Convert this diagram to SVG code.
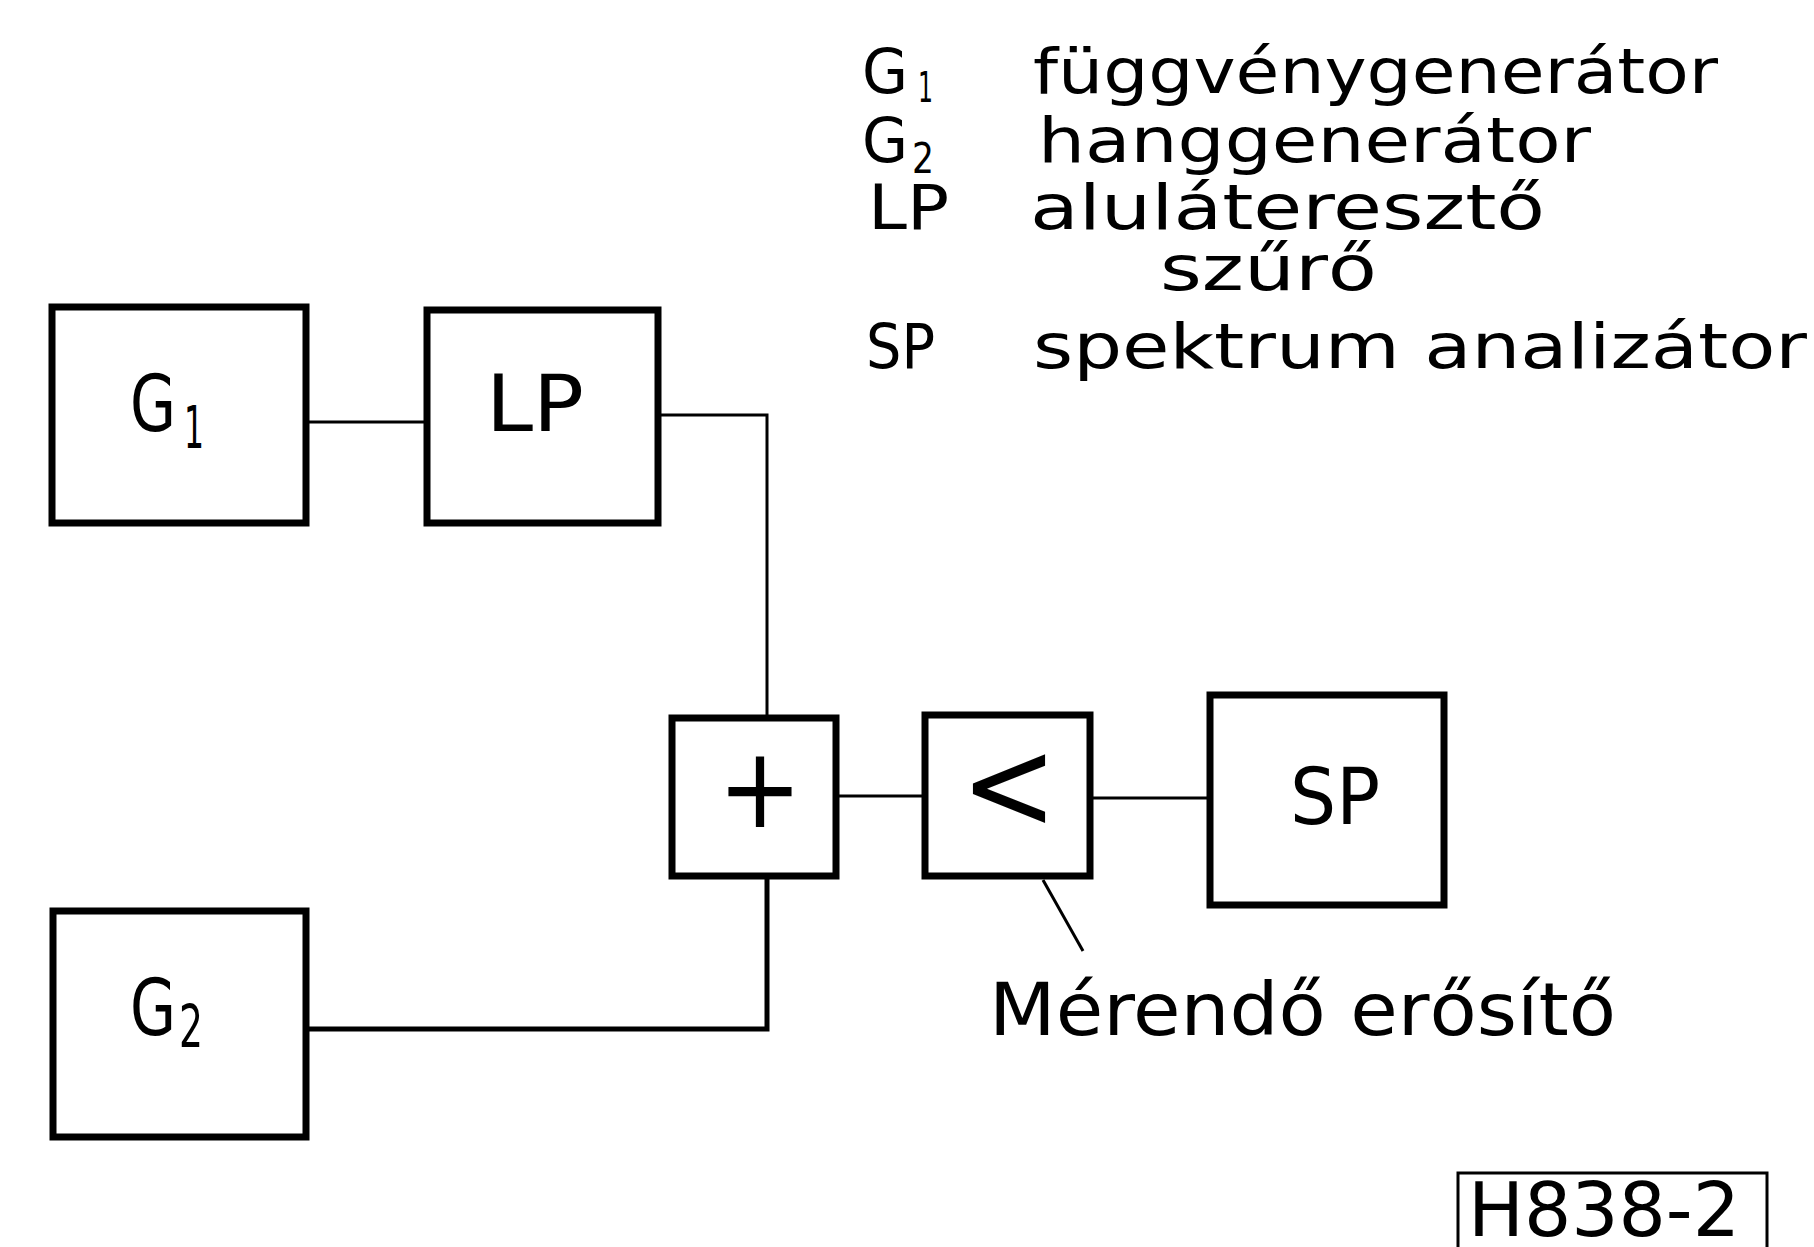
<svg xmlns="http://www.w3.org/2000/svg" width="1814" height="1247" viewBox="0 0 1814 1247">
  <style>
    .box { fill: #fff; stroke: #000; stroke-width: 7; }
    .wire { fill: none; stroke: #000; stroke-width: 3; }
    .wire-heavy { fill: none; stroke: #000; stroke-width: 5; }
    text { font-family: "DejaVu Sans Condensed", "DejaVu Sans", sans-serif; fill: #000; }
    .lbl { font-size: 78px; }
    .sub { font-size: 58px; }
    .leg { font-size: 63px; }
    .legsub { font-size: 42px; }
    .note { font-size: 73px; }
  </style>

  <rect width="1814" height="1247" fill="#fff"/>

  <!-- connecting wires -->
  <g id="connectors">
    <line class="wire" x1="308" y1="422" x2="426" y2="422"/>
    <polyline class="wire" points="660,415 767,415 767,716"/>
    <line class="wire" x1="837" y1="796" x2="923" y2="796"/>
    <line class="wire" x1="1090" y1="798" x2="1208" y2="798"/>
    <polyline class="wire-heavy" points="767,878 767,1029 308,1029"/>
    <line class="wire" x1="1043" y1="880" x2="1083" y2="951"/>
  </g>

  <!-- G1 function generator -->
  <g id="node-g1">
    <rect class="box" x="52" y="307" width="254" height="216"/>
    <text class="lbl" x="130" y="431" textLength="46" lengthAdjust="spacingAndGlyphs">G</text>
    <text class="sub" x="184" y="448" textLength="20" lengthAdjust="spacingAndGlyphs">1</text>
  </g>

  <!-- LP low-pass filter -->
  <g id="node-lp">
    <rect class="box" x="427" y="310" width="231" height="213"/>
    <text class="lbl" x="486" y="431" textLength="98" lengthAdjust="spacingAndGlyphs">LP</text>
  </g>

  <!-- summing junction -->
  <g id="node-sum">
    <rect class="box" x="672" y="718" width="164" height="158"/>
    <text x="760" y="827" font-size="112" text-anchor="middle">+</text>
  </g>

  <!-- amplifier under test -->
  <g id="node-amp">
    <rect class="box" x="925" y="715" width="165" height="161"/>
    <text x="1009" y="829" font-size="128" text-anchor="middle">&lt;</text>
  </g>

  <!-- SP spectrum analyser -->
  <g id="node-sp">
    <rect class="box" x="1210" y="695" width="234" height="210"/>
    <text class="lbl" x="1290" y="824" textLength="90" lengthAdjust="spacingAndGlyphs">SP</text>
  </g>

  <!-- G2 audio generator -->
  <g id="node-g2">
    <rect class="box" x="53" y="911" width="253" height="226"/>
    <text class="lbl" x="130" y="1035" textLength="46" lengthAdjust="spacingAndGlyphs">G</text>
    <text class="sub" x="179" y="1047" textLength="24" lengthAdjust="spacingAndGlyphs">2</text>
  </g>

  <!-- legend -->
  <g id="legend">
    <text class="leg" x="862" y="93" textLength="46" lengthAdjust="spacingAndGlyphs">G</text>
    <text class="legsub" x="918" y="102" textLength="15" lengthAdjust="spacingAndGlyphs">1</text>
    <text class="leg" x="1033" y="93" textLength="685" lengthAdjust="spacingAndGlyphs">függvénygenerátor</text>

    <text class="leg" x="862" y="162" textLength="46" lengthAdjust="spacingAndGlyphs">G</text>
    <text class="legsub" x="912" y="173" textLength="22" lengthAdjust="spacingAndGlyphs">2</text>
    <text class="leg" x="1038" y="162" textLength="553" lengthAdjust="spacingAndGlyphs">hanggenerátor</text>

    <text class="leg" x="868" y="229" textLength="81" lengthAdjust="spacingAndGlyphs">LP</text>
    <text class="leg" x="1030" y="229" textLength="515" lengthAdjust="spacingAndGlyphs">aluláteresztő</text>
    <text class="leg" x="1160" y="290" textLength="217" lengthAdjust="spacingAndGlyphs">szűrő</text>

    <text class="leg" x="866" y="368" textLength="69" lengthAdjust="spacingAndGlyphs">SP</text>
    <text class="leg" x="1033" y="368" textLength="774" lengthAdjust="spacingAndGlyphs">spektrum analizátor</text>
  </g>

  <!-- label for the amplifier under test -->
  <g id="amp-caption">
    <text class="note" x="989" y="1035" textLength="627" lengthAdjust="spacingAndGlyphs">Mérendő erősítő</text>
  </g>

  <!-- figure number -->
  <g id="figure-number">
    <rect x="1458" y="1173" width="309" height="90" fill="none" stroke="#000" stroke-width="3"/>
    <text x="1468" y="1236" font-size="74" textLength="272" lengthAdjust="spacingAndGlyphs">H838-2</text>
  </g>
</svg>
